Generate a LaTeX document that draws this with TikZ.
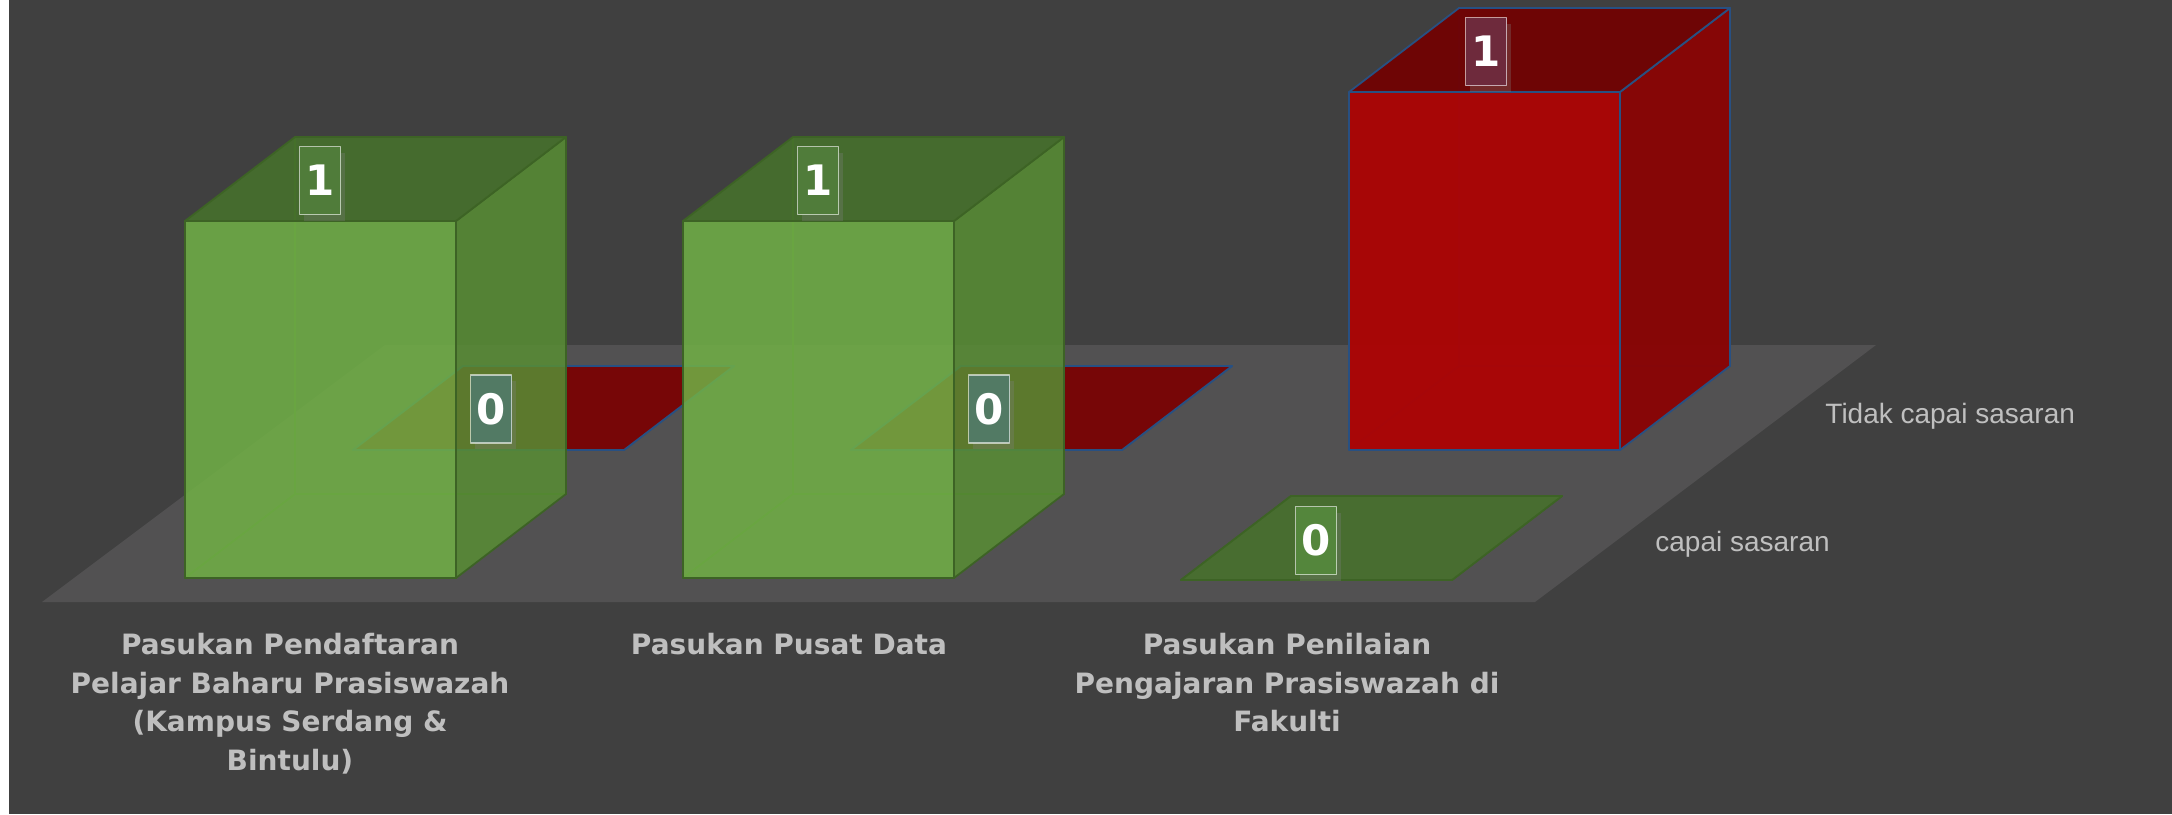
\documentclass[tikz,border=0pt]{standalone}
\usepackage{fontspec}
\setmainfont{DejaVu Sans}
\newfontfamily\legendfont{Liberation Sans}
\usetikzlibrary{shadows}
\definecolor{bgdark}{RGB}{64,64,64}
\definecolor{floorgray}{RGB}{82,81,82}
\definecolor{grfront}{RGB}{113,177,70}
\definecolor{grside}{RGB}{88,142,52}
\definecolor{grtop}{RGB}{71,115,43}
\definecolor{gredge}{RGB}{61,99,37}
\definecolor{rdfront}{RGB}{173,3,3}
\definecolor{rdside}{RGB}{138,3,3}
\definecolor{rdtop}{RGB}{113,2,2}
\definecolor{rdflat}{RGB}{122,3,3}
\definecolor{rdedge}{RGB}{40,80,130}
\definecolor{boxgrtop}{RGB}{80,124,58}
\definecolor{boxolive}{RGB}{82,122,100}
\definecolor{boxgrflat}{RGB}{84,134,60}
\definecolor{boxrdtop}{RGB}{110,42,60}
\definecolor{labelgray}{RGB}{191,191,191}
\begin{document}
\begin{tikzpicture}[x=0.5pt,y=-0.5pt, line join=round, line cap=round,
    catlabel/.style={font=\bfseries\fontsize{14pt}{19.25pt}\selectfont, text=labelgray, align=center, anchor=north, inner sep=0pt},
    vallabel/.style={font=\bfseries\fontsize{21pt}{25pt}\selectfont, text=white, draw=white, draw opacity=0.6, line width=0.75pt,
        minimum width=20.5pt, minimum height=34pt, inner sep=0pt, drop shadow={opacity=0.3,shadow xshift=2pt,shadow yshift=-3pt}},
    legtext/.style={font=\legendfont\fontsize{14pt}{16pt}\selectfont, text=labelgray, anchor=base west, inner sep=0pt}]
        \useasboundingbox (0,0) rectangle (2172,814);
        \fill[white] (0,0) rectangle (9,814);
        \fill[bgdark] (9,0) rectangle (2172,814);
        % floor
        \fill[floorgray] (42,602) -- (1535,602) -- (1876,345) -- (385,345) -- cycle;
        % columns: back row (Tidak capai sasaran), then front row (capai sasaran)
        \foreach \x/\yb/\h/\fr/\sd/\tp/\ed/\op in {353/450/0/rdfront/rdside/rdflat/rdedge/0.95,
                851/450/0/rdfront/rdside/rdflat/rdedge/0.95, 1349/450/358/rdfront/rdside/rdtop/rdedge/0.95,
                185/578/357/grfront/grside/grtop/gredge/0.85, 683/578/357/grfront/grside/grtop/gredge/0.85,
                1181/580/0/grfront/grside/grtop/gredge/0.85}
        {
                \draw[\ed, line width=0.9pt] (\x,\yb) -- ++(110,-84) -- ++(271,0) (\x+110,\yb-84) -- ++(0,-\h);
                \filldraw[fill=\fr, draw=\ed, line width=0.9pt, fill opacity=\op] (\x,\yb) rectangle ++(271,-\h);
                \filldraw[fill=\sd, draw=\ed, line width=0.9pt, fill opacity=\op] (\x+271,\yb) -- ++(110,-84) -- ++(0,-\h) -- ++(-110,84) -- cycle;
                \filldraw[fill=\tp, draw=\ed, line width=0.9pt, fill opacity=\op] (\x,\yb-\h) -- ++(271,0) -- ++(110,-84) -- ++(-271,0) -- cycle;
        }
        % value labels
        \node[vallabel, fill=boxgrtop] (v11) at (320,180.5) {1};
        \node[vallabel, fill=boxgrtop] (v21) at (818,180.5) {1};
        \node[vallabel, fill=boxgrflat] (v31) at (1316,540.5) {0};
        \node[vallabel, fill=boxolive] (v12) at (491,409) {0};
        \node[vallabel, fill=boxolive] (v22) at (989,409) {0};
        \node[vallabel, fill=boxrdtop] (v32) at (1486,51.5) {1};
        % categories
        \node[catlabel] (c1) at (290,633) {Pasukan Pendaftaran\\Pelajar Baharu Prasiswazah\\(Kampus Serdang \&\\Bintulu)};
        \node[catlabel] (c2) at (789,633) {Pasukan Pusat Data};
        \node[catlabel] (c3) at (1287,633) {Pasukan Penilaian\\Pengajaran Prasiswazah di\\Fakulti};
        % series names
        \node[legtext] (s2) at (1825,423) {Tidak capai sasaran};
        \node[legtext] (s1) at (1655,551) {capai sasaran};
\end{tikzpicture}
\end{document}
